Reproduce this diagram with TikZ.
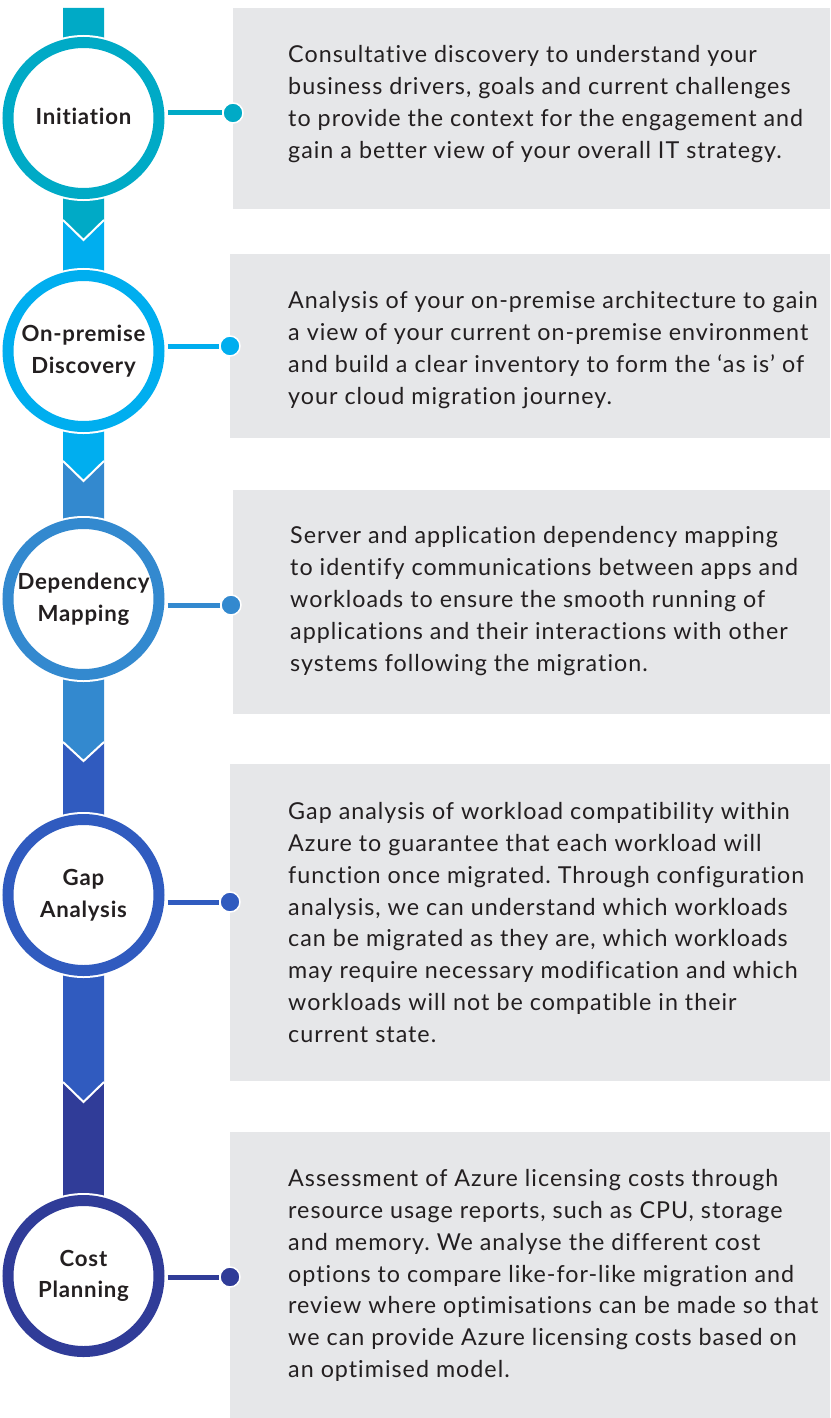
\documentclass[tikz,border=0pt]{standalone}
\usepackage{fontspec}
\setmainfont{Lato}
\newfontfamily\blurbfont[LetterSpace=4.3,Ligatures=NoCommon]{Lato}
\newfontfamily\phasefont[LetterSpace=3.5,Ligatures=NoCommon]{Lato}
\usetikzlibrary{positioning}

\definecolor{stepA}{RGB}{0,170,198}
\definecolor{stepB}{RGB}{0,174,239}
\definecolor{stepC}{RGB}{51,137,207}
\definecolor{stepD}{RGB}{48,91,191}
\definecolor{stepE}{RGB}{48,60,152}
\definecolor{panelgray}{RGB}{230,231,233}
\definecolor{inkgray}{RGB}{35,31,32}

\begin{document}
\frenchspacing
\begin{tikzpicture}[x=1pt,y=-1pt,
    phase/.style={circle,draw=#1,line width=11pt,fill=white,minimum size=151pt,
      inner sep=0pt,align=center,text=inkgray,
      font=\phasefont\fontsize{22.2}{31.5}\selectfont\bfseries,
      preaction={draw=white,line width=15pt}},
    panel/.style={fill=panelgray,anchor=north west,inner sep=0pt},
    blurb/.style={anchor=west,align=left,inner sep=0pt,text=inkgray,
      font=\blurbfont\fontsize{23.3}{31.8}\selectfont},
    dot/.style={circle,fill=#1,draw=white,line width=1.5pt,minimum size=20pt,inner sep=0pt},
    link/.style={draw=#1,line width=5pt}]
  \useasboundingbox (0,0) rectangle (830,1418);

  % grey text panels
  \node[panel,minimum width=597pt,minimum height=201pt] (p1) at (233,8) {};
  \node[panel,minimum width=600pt,minimum height=184pt] (p2) at (230,254) {};
  \node[panel,minimum width=597pt,minimum height=224pt] (p3) at (233,490) {};
  \node[panel,minimum width=600pt,minimum height=317pt] (p4) at (230,764) {};
  \node[panel,minimum width=600pt,minimum height=286pt] (p5) at (230,1132) {};

  % the bar, lowest segment first so each chevron lies on the one below
  \fill[stepE] (63,1082) rectangle (104,1240);
  \fill[stepD] (63,742) -- (104,742) -- (104,1082) -- (83.5,1102) -- (63,1082) -- cycle;
  \draw[white,line width=2pt] (63,1082) -- (83.5,1102) -- (104,1082);
  \fill[stepC] (63,461) -- (104,461) -- (104,742) -- (83.5,761) -- (63,742) -- cycle;
  \draw[white,line width=2pt] (63,742) -- (83.5,761) -- (104,742);
  \fill[stepB] (63,220) -- (104,220) -- (104,461) -- (83.5,481) -- (63,461) -- cycle;
  \draw[white,line width=2pt] (63,461) -- (83.5,481) -- (104,461);
  \fill[stepA] (63,8) -- (104,8) -- (104,220) -- (83.5,240) -- (63,220) -- cycle;
  \draw[white,line width=2pt] (63,220) -- (83.5,240) -- (104,220);

  % phases
  \node[phase=stepA] (init) at (83.5,118) {\raisebox{3pt}{Initiation}};
  \node[phase=stepB] (onprem) at (83.5,351) {On-premise\\Discovery};
  \node[phase=stepC] (depmap) at (83.5,599) {Dependency\\Mapping};
  \node[phase=stepD] (gap) at (83.5,895) {Gap\\Analysis};
  \node[phase=stepE] (cost) at (83.5,1276) {Cost\\Planning};

  % dots on the panel edges
  \node[dot=stepA] (d1) at (233,113) {};
  \node[dot=stepB] (d2) at (230,346) {};
  \node[dot=stepC] (d3) at (231,605) {};
  \node[dot=stepD] (d4) at (230,902) {};
  \node[dot=stepE] (d5) at (230,1277) {};

  \draw[link=stepA] ([xshift=3pt]init.east |- d1) -- (d1.west);
  \draw[link=stepB] ([xshift=3pt]onprem.east |- d2) -- (d2.west);
  \draw[link=stepC] ([xshift=3pt]depmap.east |- d3) -- (d3.west);
  \draw[link=stepD] ([xshift=3pt]gap.east |- d4) -- (d4.west);
  \draw[link=stepE] ([xshift=3pt]cost.east |- d5) -- (d5.west);

  % descriptions
  \node[blurb] (t1) at (288,104) {Consultative discovery to understand your\\
    business drivers, goals and current challenges\\
    to provide the context for the engagement and\\
    gain a better view of your overall IT strategy.};
  \node[blurb] (t2) at (288,350) {Analysis of your on-premise architecture to gain\\
    a view of your current on-premise environment\\
    and build a clear inventory to form the ‘as is’ of\\
    your cloud migration journey.};
  \node[blurb] (t3) at (290,601) {Server and application dependency mapping\\
    to identify communications between apps and\\
    workloads to ensure the smooth running of\\
    applications and their interactions with other\\
    systems following the migration.};
  \node[blurb] (t4) at (288,922.5) {Gap analysis of workload compatibility within\\
    Azure to guarantee that each workload will\\
    function once migrated. Through configuration\\
    analysis, we can understand which workloads\\
    can be migrated as they are, which workloads\\
    may require necessary modification and which\\
    workloads will not be compatible in their\\
    current state.};
  \node[blurb] (t5) at (288,1275.5) {Assessment of Azure licensing costs through\\
    resource usage reports, such as CPU, storage\\
    and memory. We analyse the different cost\\
    options to compare like-for-like migration and\\
    review where optimisations can be made so that\\
    we can provide Azure licensing costs based on\\
    an optimised model.};
\end{tikzpicture}
\end{document}
